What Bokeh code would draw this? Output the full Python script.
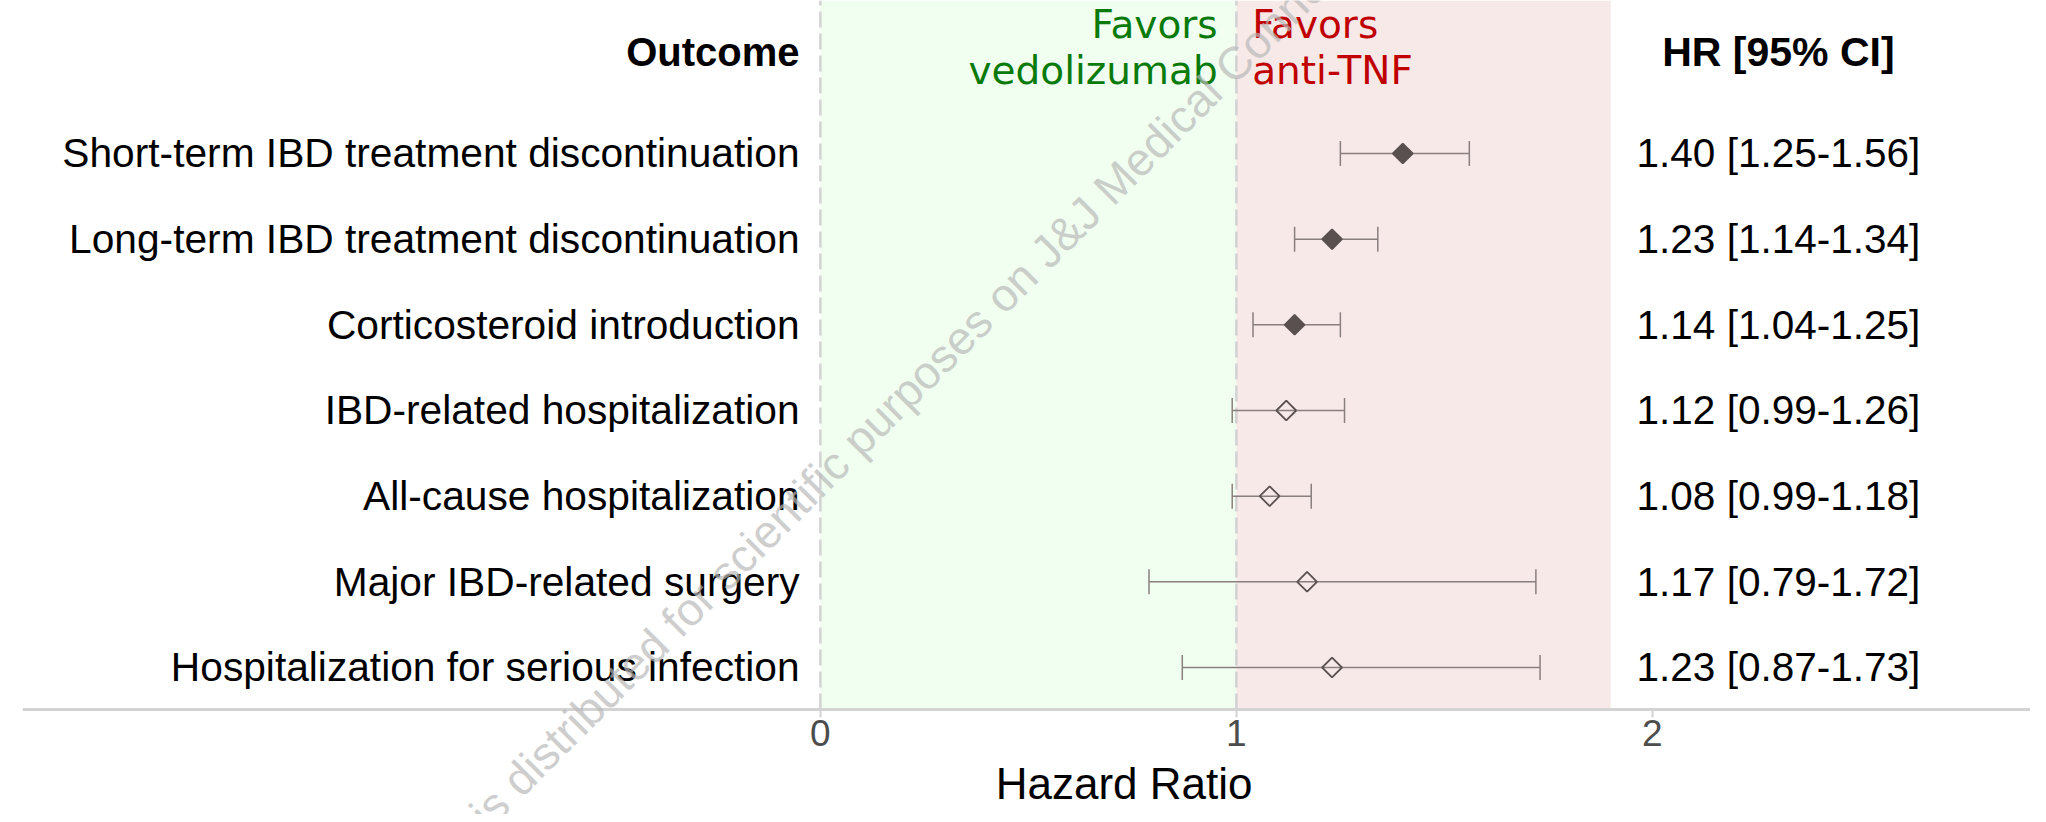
import math
from bokeh.plotting import figure
from bokeh.models import Range1d, FixedTicker, BoxAnnotation, Label, ColumnDataSource
from bokeh.core.properties import value
from bokeh.embed import file_html
from bokeh.resources import INLINE

# ---------------- data ----------------
outcomes = [
    "Short-term IBD treatment discontinuation",
    "Long-term IBD treatment discontinuation",
    "Corticosteroid introduction",
    "IBD-related hospitalization",
    "All-cause hospitalization",
    "Major IBD-related surgery",
    "Hospitalization for serious infection",
]
hr = [1.40, 1.23, 1.14, 1.12, 1.08, 1.17, 1.23]
ci_low = [1.25, 1.14, 1.04, 0.99, 0.99, 0.79, 0.87]
ci_high = [1.56, 1.34, 1.25, 1.26, 1.18, 1.72, 1.73]
x_ticks = [0, 1, 2]
band_green = [0, 1]      # favors vedolizumab region
band_red = [1, 1.9]      # favors anti-TNF region
headers = ["Outcome", "HR [95% CI]"]
favors_left = ["Favors", "vedolizumab"]
favors_right = ["Favors", "anti-TNF"]
x_title = "Hazard Ratio"
watermark = "This material is distributed for scientific purposes on J&J Medical Connect"

# ---------------- layout helpers ----------------
n = len(outcomes)
ypos = [n - i for i in range(n)]
cap = 0.146
Y_TOP, Y_BOTTOM, AXIS_Y = 8.786, -0.716, 0.5097
DARK = "#5b5050"
WHISK = "#8a7f7f"

src = ColumnDataSource(dict(
    y=ypos, hr=hr, lo=ci_low, hi=ci_high, label=outcomes,
    txt=[f"{h:.2f} [{l:.2f}-{u:.2f}]" for h, l, u in zip(hr, ci_low, ci_high)],
    fill=[DARK if l > 1 else None for l in ci_low],
    ylo=[y - cap for y in ypos], yhi=[y + cap for y in ypos],
))

p = figure(width=2030, height=814,
           x_range=Range1d(-1.918, 2.909), y_range=Range1d(Y_BOTTOM, Y_TOP),
           output_backend="svg", toolbar_location=None,
           y_axis_location=None,
           min_border_left=22, min_border_right=0, min_border_top=0, min_border_bottom=0)
p.outline_line_color = None
p.grid.visible = False
p.background_fill_color = "white"
p.border_fill_color = "white"

# bands (stop at the axis line)
p.add_layout(BoxAnnotation(left=band_green[0], right=band_green[1], bottom=AXIS_Y,
                           fill_color="#f0fff0", fill_alpha=1, line_color=None, level="underlay"))
p.add_layout(BoxAnnotation(left=band_red[0], right=band_red[1], bottom=AXIS_Y,
                           fill_color="#f7e9e8", fill_alpha=1, line_color=None, level="underlay"))
# dashed reference lines at 0 and 1
p.segment(x0=band_green, x1=band_green, y0=[AXIS_Y] * 2, y1=[Y_TOP] * 2,
          line_color="#d2d2d2", line_width=2.5, line_dash="16 6")

# axis drawn inside the frame at a fixed location
ax = p.xaxis[0]
ax.fixed_location = AXIS_Y
ax.ticker = FixedTicker(ticks=x_ticks)
ax.axis_line_color = "#d3d3d3"
ax.axis_line_width = 3
ax.major_tick_line_color = "#d3d3d3"
ax.major_tick_line_width = 2
ax.major_tick_out = 8
ax.major_tick_in = 0
ax.minor_tick_line_color = None
ax.major_label_text_font = "Liberation Sans"
ax.major_label_text_font_size = "37px"
ax.major_label_text_color = "#4d4d4d"
ax.major_label_standoff = 3

# CI whiskers & caps
p.segment(x0="lo", x1="hi", y0="y", y1="y", source=src, line_color=WHISK, line_width=1.5)
p.segment(x0="lo", x1="lo", y0="ylo", y1="yhi", source=src, line_color=WHISK, line_width=1.5)
p.segment(x0="hi", x1="hi", y0="ylo", y1="yhi", source=src, line_color=WHISK, line_width=1.5)

# point estimates (filled when CI excludes 1)
p.scatter(x="hr", y="y", source=src, marker="square", angle=math.pi / 4, size=14,
          fill_color="fill", line_color=DARK, line_width=1.8)

# row labels and HR text
p.text(x=-0.05, y="y", text="label", source=src, text_font=value("Liberation Sans"),
       text_font_size="40.7px", text_align="right", text_baseline="middle", text_color="black")
p.text(x=2.303, y="y", text="txt", source=src, text_font=value("Liberation Sans"),
       text_font_size="40.5px", text_align="center", text_baseline="middle", text_color="black")

# headers
p.add_layout(Label(x=-0.05, y=8.179, text=headers[0], text_font="Liberation Sans",
                   text_font_size="40px", text_font_style="bold", text_align="right",
                   text_baseline="middle", text_color="black"))
p.add_layout(Label(x=2.303, y=8.179, text=headers[1], text_font="Liberation Sans",
                   text_font_size="41px", text_font_style="bold", text_align="center",
                   text_baseline="middle", text_color="black"))

# favors labels
for txt, yy in zip(favors_left, [8.505, 7.968]):
    p.add_layout(Label(x=0.955, y=yy, text=txt, text_font="DejaVu Sans", text_font_size="39px",
                       text_align="right", text_baseline="middle", text_color="#0a7a0a"))
for txt, yy in zip(favors_right, [8.505, 7.968]):
    p.add_layout(Label(x=1.038, y=yy, text=txt, text_font="DejaVu Sans", text_font_size="39px",
                       text_align="left", text_baseline="middle", text_color="#c00000"))

# x axis title
p.add_layout(Label(x=0.73, y=-0.354, text=x_title, text_font="Liberation Sans",
                   text_font_size="44px", text_align="center", text_baseline="middle",
                   text_color="black"))

# watermark
p.add_layout(Label(x=-0.017, y=3.136, text=watermark, text_font="Liberation Sans",
                   text_font_size="46px", text_align="center", text_baseline="middle",
                   angle=45, angle_units="deg", text_color="#b8b8b8", text_alpha=0.7,
                   level="overlay"))

open("out.html", "w").write(file_html(p, INLINE))
